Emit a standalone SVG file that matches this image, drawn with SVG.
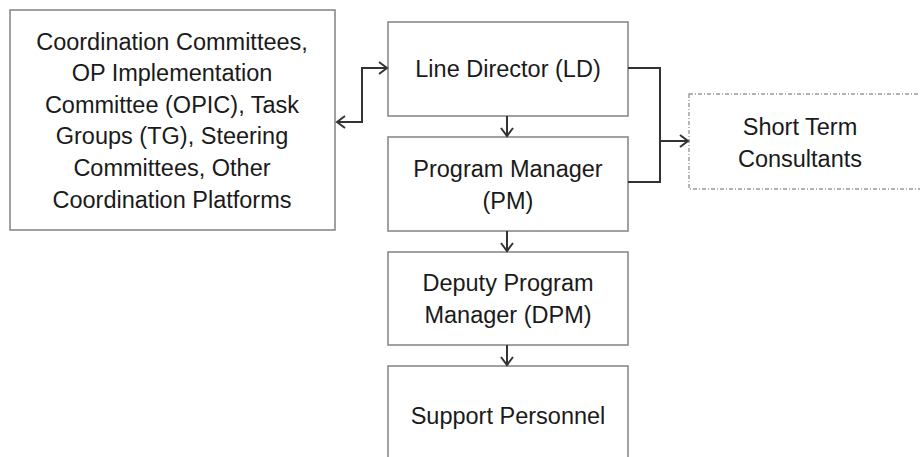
<svg xmlns="http://www.w3.org/2000/svg" width="920" height="457" viewBox="0 0 920 457">
<style>
.box{fill:#fff;stroke:#8a8a8a;stroke-width:1.6}
.dash{fill:#fff;stroke:#9a9a9a;stroke-width:1.4;stroke-dasharray:4 2 1 2}
.t{font-family:"Liberation Sans",Arial,sans-serif;font-size:23.5px;fill:#1a1a1a;text-anchor:middle}
.c{fill:none;stroke:#333;stroke-width:2}
</style>
<defs>
<marker id="ah" markerUnits="userSpaceOnUse" markerWidth="12" markerHeight="14" refX="10" refY="7" orient="auto-start-reverse">
<path d="M2,1 L10,7 L2,13" fill="none" stroke="#333" stroke-width="2"/>
</marker>
</defs>
<rect width="920" height="457" fill="#fff"/>
<g id="coord">
<rect class="box" x="10" y="10" width="325" height="220"/>
<text class="t" x="172" y="50">Coordination Committees,</text>
<text class="t" x="172" y="81">OP Implementation</text>
<text class="t" x="172" y="113">Committee (OPIC), Task</text>
<text class="t" x="172" y="144">Groups (TG), Steering</text>
<text class="t" x="172" y="176">Committees, Other</text>
<text class="t" x="172" y="208">Coordination Platforms</text>
</g>
<g id="ld">
<rect class="box" x="388" y="22" width="240" height="94"/>
<text class="t" x="508" y="77">Line Director (LD)</text>
</g>
<g id="pm">
<rect class="box" x="388" y="137" width="240" height="94"/>
<text class="t" x="508" y="177">Program Manager</text>
<text class="t" x="508" y="209">(PM)</text>
</g>
<g id="dpm">
<rect class="box" x="388" y="252" width="240" height="93"/>
<text class="t" x="508" y="291">Deputy Program</text>
<text class="t" x="508" y="323">Manager (DPM)</text>
</g>
<g id="sp">
<rect class="box" x="388" y="366" width="240" height="110"/>
<text class="t" x="508" y="424">Support Personnel</text>
</g>
<g id="stc">
<rect class="dash" x="689" y="94" width="240" height="95"/>
<text class="t" x="800" y="135">Short Term</text>
<text class="t" x="800" y="167">Consultants</text>
</g>
<g id="connectors">
<path class="c" d="M337,122 H362 V68 H387" marker-start="url(#ah)" marker-end="url(#ah)"/>
<path class="c" d="M507,116 V136" marker-end="url(#ah)"/>
<path class="c" d="M507,231 V251" marker-end="url(#ah)"/>
<path class="c" d="M507,345 V365" marker-end="url(#ah)"/>
<path class="c" d="M628,68 H660 V182 H628"/>
<path class="c" d="M660,141 H688" marker-end="url(#ah)"/>
</g>
</svg>
